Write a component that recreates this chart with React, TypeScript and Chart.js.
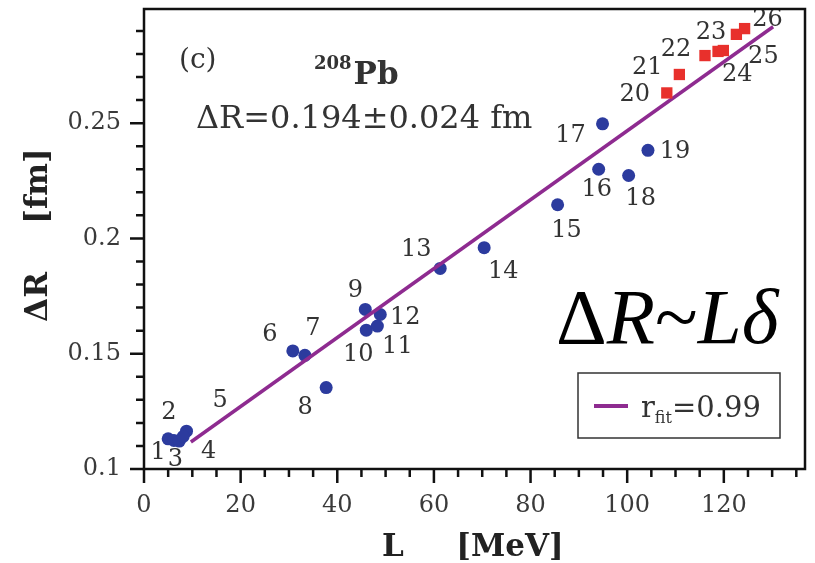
import React, { useEffect, useRef } from "react";
import { Chart, registerables } from "chart.js";

Chart.register(...registerables);

// Models 1-19 (blue circles)
const circleL = [5.0, 6.2, 7.3, 8.8, 8.1, 30.8, 33.3, 37.7, 45.8, 46.0, 48.3, 48.9, 61.3, 70.4, 85.6, 94.1, 94.9, 100.3, 104.3];
const circleDR = [0.1131, 0.1124, 0.1121, 0.1164, 0.1141, 0.1512, 0.1493, 0.1353, 0.1692, 0.1602, 0.162, 0.167, 0.187, 0.196, 0.2146, 0.23, 0.2497, 0.2273, 0.2382];
// Models 20-26 (red squares)
const squareL = [108.2, 110.8, 116.1, 118.8, 119.9, 122.6, 124.3];
const squareDR = [0.2631, 0.2711, 0.2793, 0.2811, 0.2815, 0.2885, 0.291];
// Linear fit
const fitL = [9.7, 130.2];
const fitDR = [0.1117, 0.2918];

const xTicks = [0, 20, 40, 60, 80, 100, 120];
const xTickLabels = ["0", "20", "40", "60", "80", "100", "120"];
const yTicks = [0.1, 0.15, 0.2, 0.25];
const yTickLabels = ["0.1", "0.15", "0.2", "0.25"];

// label placement (pixel offsets of label centre from its point)
const labelOffsets: [number, number][] = [
  [-10, 14], [-5, -28], [-4, 19], [22, 21], [37, -36], [-23, -16], [8, -27], [-21, 20],
  [-10, -19], [-8, 25], [20, 21], [25, 3], [-24, -19], [19, 24], [9, 26], [-2, 21],
  [-32, 12], [12, 23], [27, 1], [-32, 2], [-32, -7], [-29, -6], [-7, -19], [14, 24],
  [27, 22], [23, -9],
];

const SERIF = "'DejaVu Serif', serif";

const decorPlugin = {
  id: "decor",
  afterDraw(chart: any) {
    const ctx = chart.ctx as CanvasRenderingContext2D;
    const ca = chart.chartArea;
    const xs = chart.scales.x;
    const ys = chart.scales.y;
    ctx.save();

    // point labels (clipped to the plot)
    ctx.save();
    ctx.beginPath();
    ctx.rect(ca.left, ca.top, ca.right - ca.left, ca.bottom - ca.top);
    ctx.clip();
    ctx.fillStyle = "#333";
    ctx.font = `24px ${SERIF}`;
    ctx.textAlign = "center";
    ctx.textBaseline = "middle";
    const allL = [...circleL, ...squareL];
    const allR = [...circleDR, ...squareDR];
    for (let i = 0; i < allL.length; i++) {
      const px = xs.getPixelForValue(allL[i]);
      const py = ys.getPixelForValue(allR[i]);
      const [dx, dy] = labelOffsets[i];
      ctx.fillText(String(i + 1), px + dx, py + dy);
    }
    ctx.restore();

    // frame
    ctx.strokeStyle = "#111";
    ctx.lineWidth = 2.5;
    ctx.strokeRect(ca.left, ca.top, ca.right - ca.left, ca.bottom - ca.top);

    // ticks (outward)
    ctx.lineWidth = 2.5;
    ctx.beginPath();
    for (let v = 0; v <= 135; v += 5) {
      const px = xs.getPixelForValue(v);
      const len = v % 20 === 0 ? 14 : 8;
      ctx.moveTo(px, ca.bottom);
      ctx.lineTo(px, ca.bottom + len);
    }
    for (let k = 10; k <= 29; k++) {
      const py = ys.getPixelForValue(k / 100);
      const len = k % 5 === 0 ? 14 : 8;
      ctx.moveTo(ca.left, py);
      ctx.lineTo(ca.left - len, py);
    }
    ctx.stroke();

    // tick labels
    ctx.fillStyle = "#3a3a3a";
    ctx.font = `24px ${SERIF}`;
    ctx.textAlign = "center";
    ctx.textBaseline = "alphabetic";
    xTicks.forEach((v, i) => {
      ctx.fillText(xTickLabels[i], xs.getPixelForValue(v), 512);
    });
    ctx.textAlign = "right";
    ctx.textBaseline = "middle";
    yTicks.forEach((v, i) => {
      ctx.fillText(yTickLabels[i], 121, ys.getPixelForValue(v));
    });

    // axis titles
    ctx.fillStyle = "#222";
    ctx.textBaseline = "alphabetic";
    ctx.textAlign = "center";
    ctx.font = `bold 31px ${SERIF}`;
    ctx.fillText("L", 393, 556);
    ctx.fillText("[MeV]", 510, 556);
    ctx.save();
    ctx.translate(47, 0);
    ctx.rotate(-Math.PI / 2);
    ctx.fillText("ΔR", -297, 0);
    ctx.fillText("[fm]", -186, 0);
    ctx.restore();

    // (c)
    ctx.fillStyle = "#333";
    ctx.textAlign = "left";
    ctx.font = `28px ${SERIF}`;
    ctx.fillText("(c)", 179, 68);
    // 208Pb
    ctx.font = `bold 18px ${SERIF}`;
    ctx.fillText("208", 314, 69);
    const w208 = ctx.measureText("208").width;
    ctx.font = `bold 31px ${SERIF}`;
    ctx.fillText("Pb", 314 + w208 + 2, 84);
    // ΔR = ...
    ctx.font = `32px ${SERIF}`;
    ctx.fillText("ΔR=0.194±0.024 fm", 196, 128);

    // big formula
    const parts: [string, boolean][] = [["Δ", false], ["R", true], ["~", false], ["L", true], ["δ", true]];
    let fx = 556;
    ctx.fillStyle = "#000";
    for (const [t, it] of parts) {
      ctx.font = `${it ? "italic " : ""}79px 'Liberation Serif', serif`;
      ctx.fillText(t, fx, 343);
      fx += ctx.measureText(t).width;
    }

    // legend box
    ctx.fillStyle = "#fff";
    ctx.fillRect(578, 373, 202, 65);
    ctx.strokeStyle = "#333";
    ctx.lineWidth = 1.5;
    ctx.strokeRect(578, 373, 202, 65);
    ctx.strokeStyle = "#8e2b90";
    ctx.lineWidth = 4;
    ctx.beginPath();
    ctx.moveTo(594, 406);
    ctx.lineTo(628, 406);
    ctx.stroke();
    ctx.fillStyle = "#333";
    ctx.font = `29px ${SERIF}`;
    ctx.fillText("r", 641, 417);
    let lx = 641 + ctx.measureText("r").width;
    ctx.font = `16px ${SERIF}`;
    ctx.fillText("fit", lx, 423);
    lx += ctx.measureText("fit").width;
    ctx.font = `29px ${SERIF}`;
    ctx.fillText("=0.99", lx, 417);

    ctx.restore();
  },
};

export default function App() {
  const ref = useRef<HTMLCanvasElement>(null);
  useEffect(() => {
    const canvas = ref.current!;
    const chart = new Chart(canvas, {
      type: "scatter",
      data: {
        datasets: [
          {
            label: "20-26",
            data: squareL.map((x, i) => ({ x, y: squareDR[i] })),
            pointStyle: "rect",
            pointRadius: 8,
            backgroundColor: "#e8302c",
            borderWidth: 0,
          },
          {
            label: "fit",
            data: fitL.map((x, i) => ({ x, y: fitDR[i] })),
            showLine: true,
            borderColor: "#8e2b90",
            borderWidth: 3.5,
            pointRadius: 0,
          },
          {
            label: "1-19",
            data: circleL.map((x, i) => ({ x, y: circleDR[i] })),
            pointStyle: "circle",
            pointRadius: 6.5,
            backgroundColor: "#2c3b9e",
            borderWidth: 0,
          },
        ],
      },
      options: {
        responsive: false,
        maintainAspectRatio: false,
        devicePixelRatio: 1,
        animation: false,
        layout: { padding: { top: 9, right: 10, left: 0, bottom: 0 } },
        plugins: { legend: { display: false }, tooltip: { enabled: false } },
        scales: {
          x: {
            type: "linear",
            min: 0,
            max: 136.8,
            afterBuildTicks: (s: any) => {
              s.ticks = xTicks.map((v) => ({ value: v }));
            },
            afterFit: (s: any) => {
              s.height = 94;
            },
            grid: { display: false },
            border: { display: false },
            ticks: { display: false },
          },
          y: {
            type: "linear",
            min: 0.1,
            max: 0.2995,
            afterBuildTicks: (s: any) => {
              s.ticks = yTicks.map((v) => ({ value: v }));
            },
            afterFit: (s: any) => {
              s.width = 144;
            },
            grid: { display: false },
            border: { display: false },
            ticks: { display: false },
          },
        },
      },
      plugins: [decorPlugin],
    } as any);
    return () => chart.destroy();
  }, []);
  return (
    <div style={{ position: "fixed", left: 0, top: 0, width: 815, height: 563, background: "#fff" }}>
      <canvas ref={ref} width={815} height={563} />
    </div>
  );
}
